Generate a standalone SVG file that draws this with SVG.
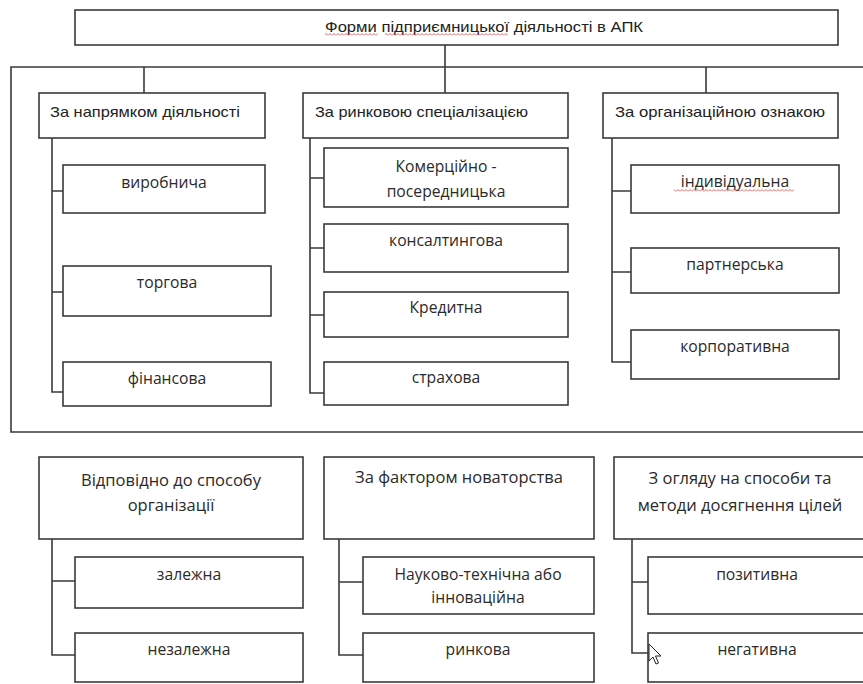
<svg xmlns="http://www.w3.org/2000/svg" width="863" height="684" viewBox="0 0 863 684">
<defs>
<style>
.box{fill:#fff;stroke:#3a3a3a;stroke-width:1.6}
.ln{fill:none;stroke:#3a3a3a;stroke-width:1.6}
.hd{font-family:"Liberation Sans",Arial,sans-serif;font-size:14.5px;fill:#222}
.tx{font-family:"Open Sans","Noto Sans",sans-serif;font-size:15.7px;fill:#2a2a2a;text-anchor:middle}
.bh{font-size:16.5px}
</style>
<pattern id="squig" width="4" height="3" patternUnits="userSpaceOnUse">
<path d="M0,2.5 L2,0.5 L4,2.5" fill="none" stroke="#d04040" stroke-width="0.8"/>
</pattern>
</defs>
<rect width="863" height="684" fill="#fff"/>

<g id="connectors">
<path class="ln" d="M863,67 H11 V432 H863"/>
<path class="ln" d="M445,45 V93 M144,67 V93 M706,67 V93"/>
<path class="ln" d="M52,138 V392 H63 M52,191 H63 M52,292 H63"/>
<path class="ln" d="M310,138 V393 H324 M310,178 H324 M310,248 H324 M310,315 H324"/>
<path class="ln" d="M612,138 V362 H631 M612,191 H631 M612,272 H631"/>
<path class="ln" d="M52,539 V655 H75 M52,581 H75"/>
<path class="ln" d="M339,539 V655 H363 M339,582 H363"/>
<path class="ln" d="M632,539 V653 H648 M632,582 H648"/>
</g>

<g id="root">
<rect class="box" x="75" y="10" width="763" height="35"/>
<text class="hd" x="325" y="32" textLength="318" lengthAdjust="spacingAndGlyphs">Форми підприємницької діяльності в АПК</text>
<rect x="325" y="33" width="53" height="3" fill="url(#squig)"/>
<rect x="385" y="33" width="123" height="3" fill="url(#squig)"/>
</g>

<g id="h1">
<rect class="box" x="39" y="93" width="226" height="45"/>
<text class="hd" x="50" y="117" textLength="190" lengthAdjust="spacingAndGlyphs">За напрямком діяльності</text>
</g>
<g id="h2">
<rect class="box" x="303" y="93" width="265" height="45"/>
<text class="hd" x="315" y="117" textLength="213" lengthAdjust="spacingAndGlyphs">За ринковою спеціалізацією</text>
</g>
<g id="h3">
<rect class="box" x="603" y="93" width="235" height="45"/>
<text class="hd" x="615" y="117" textLength="210" lengthAdjust="spacingAndGlyphs">За організаційною ознакою</text>
</g>

<g id="n-vyrobnycha">
<rect class="box" x="63" y="165" width="202" height="48"/>
<text class="tx" x="164" y="188">виробнича</text>
</g>
<g id="n-torhova">
<rect class="box" x="63" y="266" width="208" height="50"/>
<text class="tx" x="167" y="288">торгова</text>
</g>
<g id="n-finansova">
<rect class="box" x="63" y="362" width="208" height="44"/>
<text class="tx" x="167" y="384">фінансова</text>
</g>

<g id="n-komertsiino">
<rect class="box" x="324" y="148" width="244" height="59"/>
<text class="tx" x="446" y="172">Комерційно -</text>
<text class="tx" x="446" y="197">посередницька</text>
</g>
<g id="n-konsaltynhova">
<rect class="box" x="324" y="224" width="244" height="48"/>
<text class="tx" x="446" y="246">консалтингова</text>
</g>
<g id="n-kredytna">
<rect class="box" x="324" y="292" width="244" height="45"/>
<text class="tx" x="446" y="313">Кредитна</text>
</g>
<g id="n-strakhova">
<rect class="box" x="324" y="362" width="244" height="43"/>
<text class="tx" x="446" y="383">страхова</text>
</g>

<g id="n-indyvidualna">
<rect class="box" x="631" y="165" width="208" height="48"/>
<text class="tx" x="735" y="187">індивідуальна</text>
<rect x="674" y="189" width="120" height="3" fill="url(#squig)"/>
</g>
<g id="n-partnerska">
<rect class="box" x="631" y="248" width="208" height="45"/>
<text class="tx" x="735" y="270">партнерська</text>
</g>
<g id="n-korporatyvna">
<rect class="box" x="631" y="330" width="208" height="49"/>
<text class="tx" x="735" y="352">корпоративна</text>
</g>

<g id="b1">
<rect class="box" x="39" y="457" width="264" height="82"/>
<text class="tx bh" x="171" y="486">Відповідно до способу</text>
<text class="tx bh" x="171" y="511">організації</text>
</g>
<g id="b2">
<rect class="box" x="324" y="457" width="270" height="82"/>
<text class="tx bh" x="459" y="483">За фактором новаторства</text>
</g>
<g id="b3">
<rect class="box" x="614" y="457" width="250" height="82"/>
<text class="tx bh" x="740" y="484">З огляду на способи та</text>
<text class="tx bh" x="740" y="511">методи досягнення цілей</text>
</g>

<g id="n-zalezhna">
<rect class="box" x="75" y="557" width="228" height="51"/>
<text class="tx" x="189" y="580">залежна</text>
</g>
<g id="n-nezalezhna">
<rect class="box" x="75" y="633" width="228" height="49"/>
<text class="tx" x="189" y="655">незалежна</text>
</g>
<g id="n-naukovo">
<rect class="box" x="363" y="557" width="231" height="57"/>
<text class="tx" x="478" y="580">Науково-технічна або</text>
<text class="tx" x="478" y="603">інноваційна</text>
</g>
<g id="n-rynkova">
<rect class="box" x="363" y="633" width="231" height="49"/>
<text class="tx" x="478" y="655">ринкова</text>
</g>
<g id="n-pozytyvna">
<rect class="box" x="648" y="557" width="216" height="57"/>
<text class="tx" x="757" y="580">позитивна</text>
</g>
<g id="n-nehatyvna">
<rect class="box" x="648" y="633" width="216" height="49"/>
<text class="tx" x="757" y="655">негативна</text>
</g>

<path d="M649,644 V661 L653,657 L656,664 L658.5,663 L655.5,656 L661,656 Z" fill="#fff" stroke="#222" stroke-width="1"/>
</svg>
